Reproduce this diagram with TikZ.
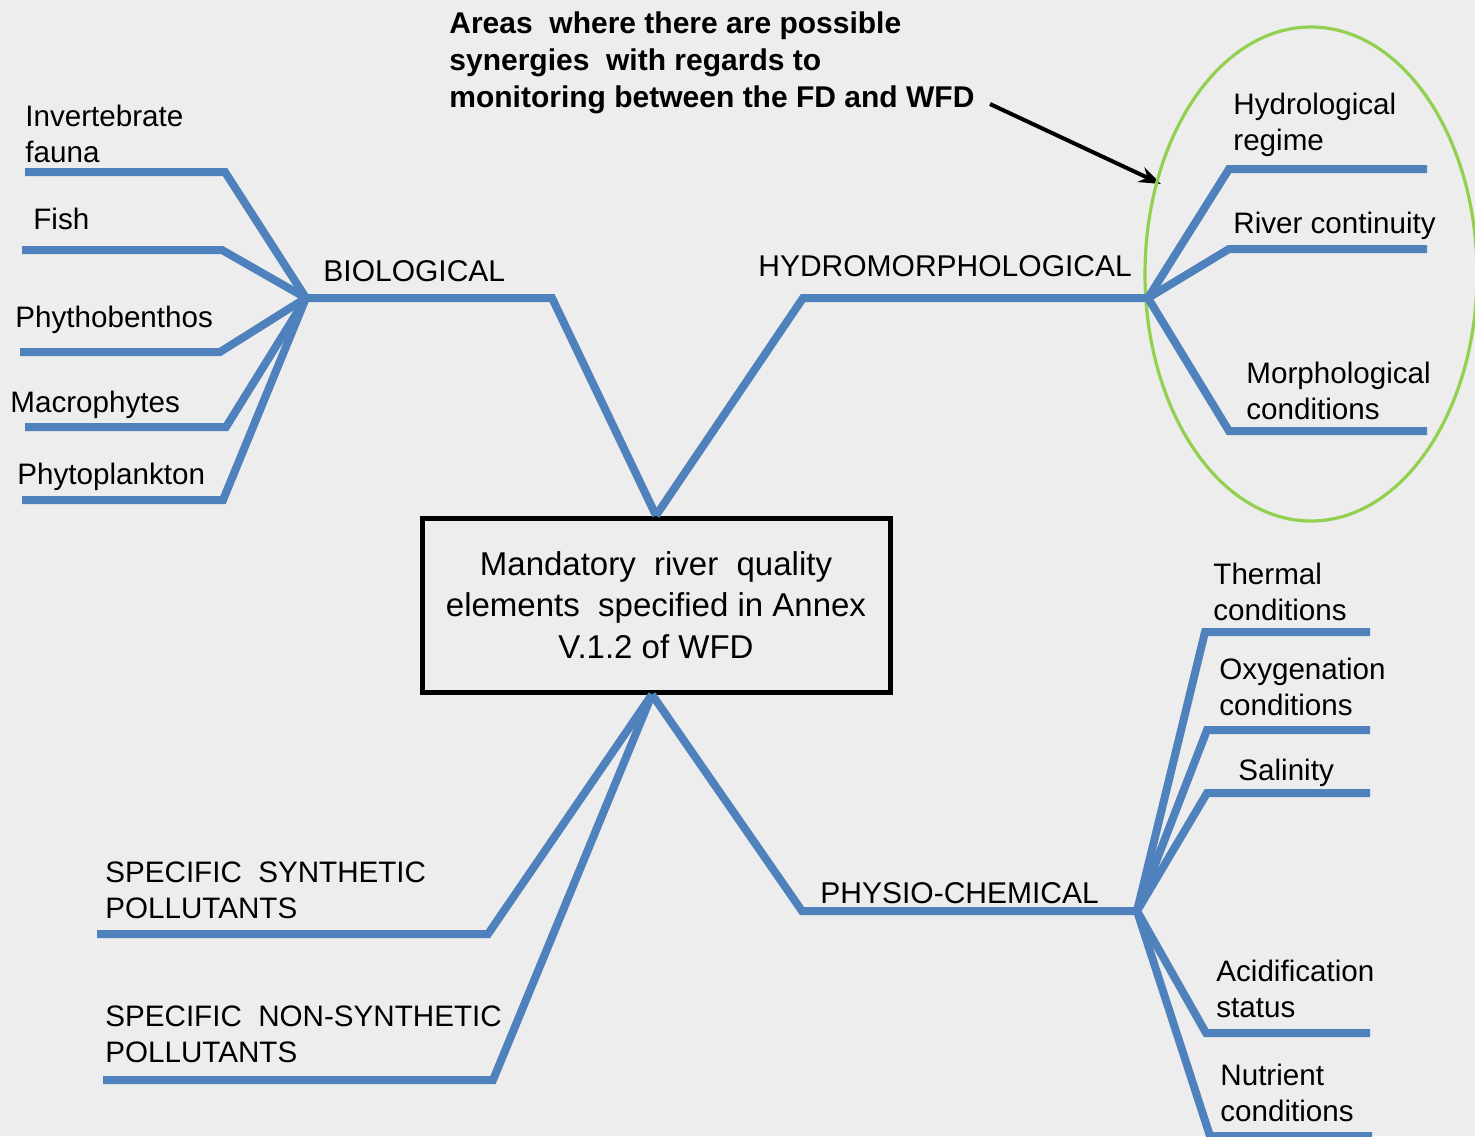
\documentclass[tikz,border=0pt]{standalone}
\usepackage{fontspec}
\setmainfont{Liberation Sans}
\usetikzlibrary{arrows.meta}
\definecolor{bgc}{HTML}{EDEDED}
\definecolor{branchblue}{HTML}{4F81BD}
\definecolor{ringgreen}{HTML}{92D050}
\tikzset{
  branch/.style={draw=branchblue, line width=4pt},
  leaf/.style={anchor=base west, inner sep=0pt, align=left, font=\fontsize{14.8}{18}\selectfont},
  cat/.style={anchor=base west, inner sep=0pt, font=\fontsize{15}{18}\selectfont},
  ring/.style={draw=ringgreen, line width=1.6pt},
  pointer/.style={draw=black, line width=2pt, -{Stealth[length=11pt,width=8pt]}}
}
\begin{document}
\begin{tikzpicture}[x=0.5pt,y=-0.5pt]
\path[use as bounding box, fill=bgc] (0,0) rectangle (1475,1136);

% central box
\node[draw, line width=2.5pt, minimum width=234pt, minimum height=87pt, inner sep=0pt,
      align=center, font=\fontsize{16.5}{20.8}\selectfont] (center) at (656,605)
  {Mandatory \ river \ quality\\elements \ specified in Annex\\V.1.2 of WFD};

% note text and arrow (base anchor = baseline of last line)
\node[anchor=base west, inner sep=0pt, align=left, font=\fontsize{15}{18.3}\selectfont\bfseries] (note) at (449,107)
  {Areas \ where there are possible\\synergies \ with regards to\\monitoring between the FD and WFD};
\coordinate (arrowstart) at (990,104);
\coordinate (arrowtip) at (1161,184);
\draw[pointer] (arrowstart) -- (arrowtip);

% ellipse around hydromorphological elements
\draw[ring] (1311,274) ellipse [x radius=166, y radius=247];

% ---------- BIOLOGICAL ----------
\coordinate (bioTop) at (552,298);
\coordinate (bio) at (306,298);
\node[cat] (bioLabel) at (323,281) {BIOLOGICAL};
\draw[branch] (center.north) -- (bioTop) -- (bio);

\coordinate (invB) at (225,172); \coordinate (invE) at (25,172);
\coordinate (fishB) at (222,250); \coordinate (fishE) at (22,250);
\coordinate (phybB) at (220,352); \coordinate (phybE) at (20,352);
\coordinate (macB) at (226,427); \coordinate (macE) at (25,427);
\coordinate (phytB) at (223,500); \coordinate (phytE) at (22,500);
\draw[branch] (bio) -- (invB) -- (invE);
\draw[branch] (bio) -- (fishB) -- (fishE);
\draw[branch] (bio) -- (phybB) -- (phybE);
\draw[branch] (bio) -- (macB) -- (macE);
\draw[branch] (bio) -- (phytB) -- (phytE);
\node[leaf] (inv) at (25,162) {Invertebrate\\fauna};
\node[leaf] (fish) at (33,229) {Fish};
\node[leaf] (phyb) at (15,327) {Phythobenthos};
\node[leaf] (mac) at (10,412) {Macrophytes};
\node[leaf] (phyt) at (17,484) {Phytoplankton};

% ---------- HYDROMORPHOLOGICAL ----------
\coordinate (hydTop) at (803,298);
\coordinate (hyd) at (1148,298);
\node[cat] (hydLabel) at (758,276) {HYDROMORPHOLOGICAL};
\draw[branch] (center.north) -- (hydTop) -- (hyd);

\coordinate (hregB) at (1229,169); \coordinate (hregE) at (1427,169);
\coordinate (rivB) at (1229,249); \coordinate (rivE) at (1427,249);
\coordinate (morB) at (1229,431); \coordinate (morE) at (1427,431);
\draw[branch] (hyd) -- (hregB) -- (hregE);
\draw[branch] (hyd) -- (rivB) -- (rivE);
\draw[branch] (hyd) -- (morB) -- (morE);
\node[leaf] (hreg) at (1233,150) {Hydrological\\regime};
\node[leaf] (riv) at (1233,233) {River continuity};
\node[leaf] (mor) at (1246,419) {Morphological\\conditions};

% ---------- PHYSIO-CHEMICAL ----------
\coordinate (phyBot) at (802,911);
\coordinate (phy) at (1137,911);
\coordinate (centerBot) at ([xshift=-2pt]center.south);
\node[cat] (phyLabel) at (820,903) {PHYSIO-CHEMICAL};
\draw[branch] (centerBot) -- (phyBot) -- (phy);

\coordinate (therB) at (1205,632); \coordinate (therE) at (1370,632);
\coordinate (oxyB) at (1207,730); \coordinate (oxyE) at (1370,730);
\coordinate (salB) at (1207,793); \coordinate (salE) at (1370,793);
\coordinate (acidB) at (1206,1033); \coordinate (acidE) at (1370,1033);
\coordinate (nutB) at (1210,1136); \coordinate (nutE) at (1372,1136);
\draw[branch] (phy) -- (therB) -- (therE);
\draw[branch] (phy) -- (oxyB) -- (oxyE);
\draw[branch] (phy) -- (salB) -- (salE);
\draw[branch] (phy) -- (acidB) -- (acidE);
\draw[branch] (phy) -- (nutB) -- (nutE);
\node[leaf] (ther) at (1213,620) {Thermal\\conditions};
\node[leaf] (oxy) at (1219,715) {Oxygenation\\conditions};
\node[leaf] (sal) at (1238,780) {Salinity};
\node[leaf] (acid) at (1216,1017) {Acidification\\status};
\node[leaf] (nut) at (1220,1121) {Nutrient\\conditions};

% ---------- POLLUTANTS ----------
\coordinate (sspB) at (488,934); \coordinate (sspE) at (97,934);
\coordinate (snspB) at (493,1080); \coordinate (snspE) at (103,1080);
\draw[branch] (centerBot) -- (sspB) -- (sspE);
\draw[branch] (centerBot) -- (snspB) -- (snspE);
\node[leaf] (ssp) at (105,918) {SPECIFIC \ SYNTHETIC\\POLLUTANTS};
\node[leaf] (snsp) at (105,1062) {SPECIFIC \ NON-SYNTHETIC\\POLLUTANTS};
\end{tikzpicture}
\end{document}
